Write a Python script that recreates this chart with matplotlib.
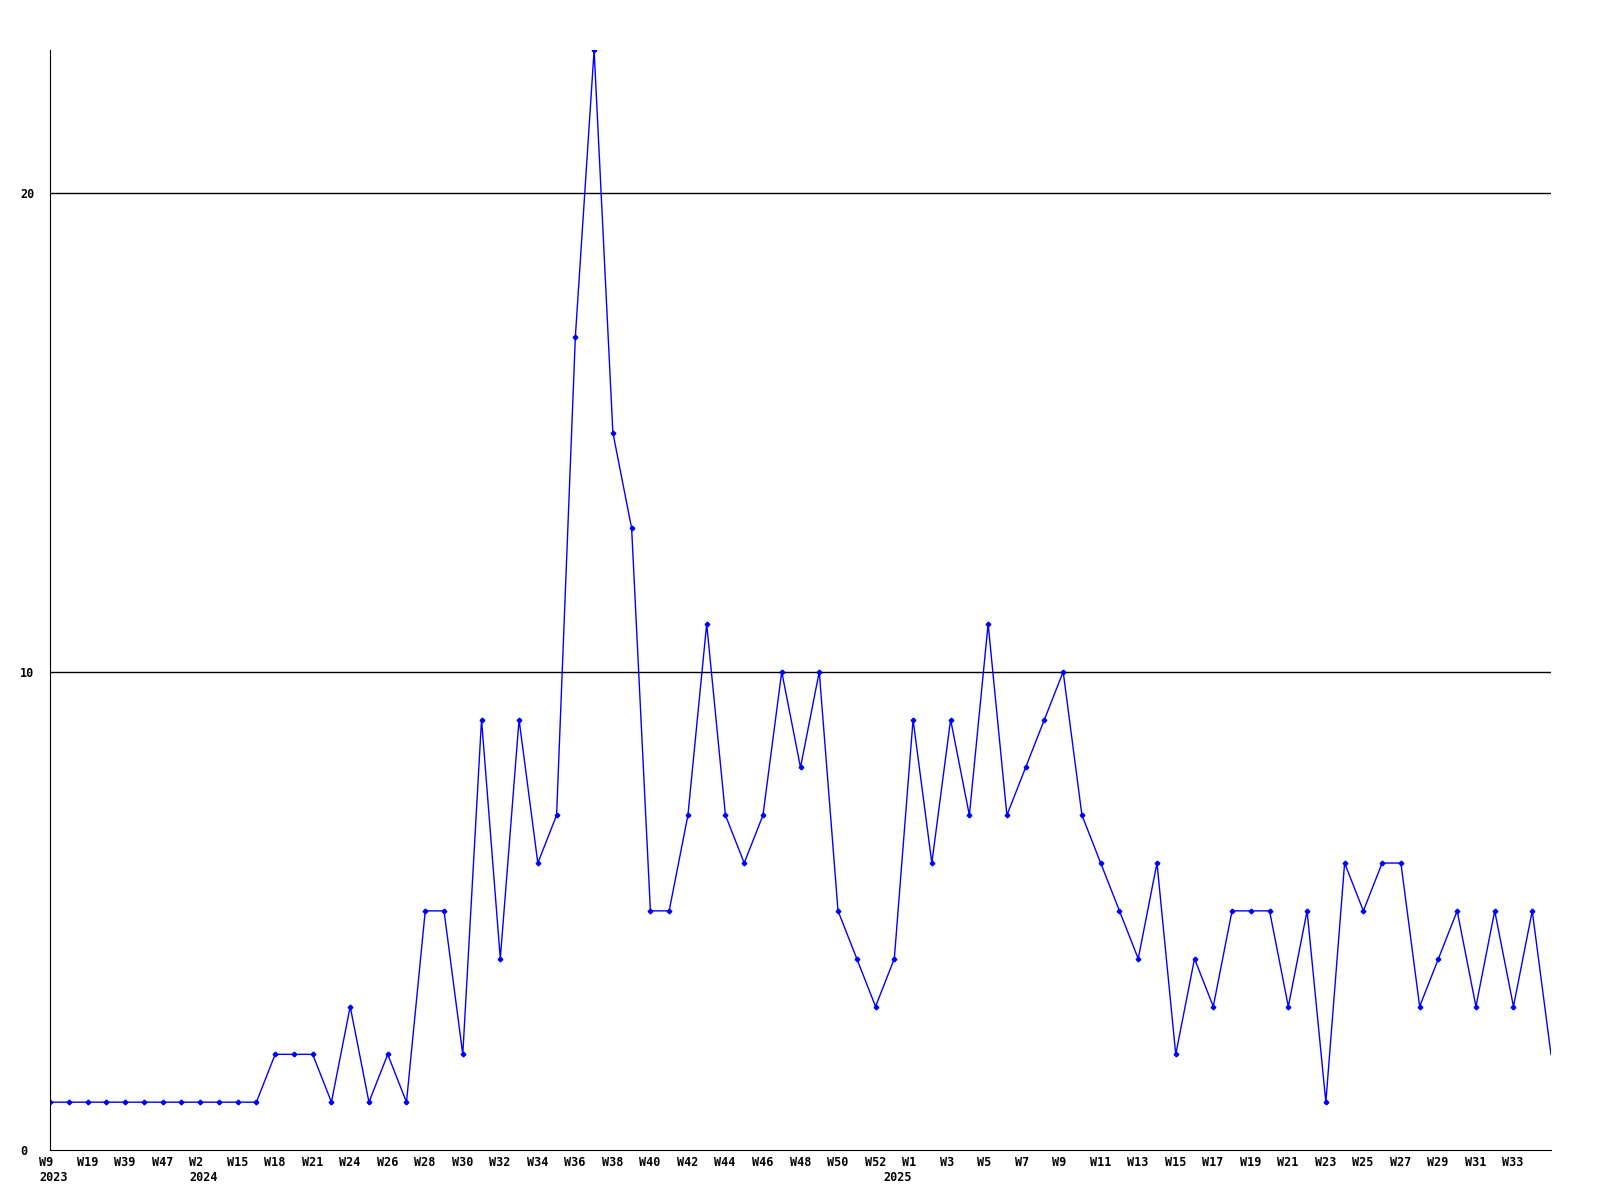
import matplotlib.pyplot as plt
import matplotlib.transforms as mtransforms

# weekly counts, one point per week
counts = [1, 1, 1, 1, 1, 1, 1, 1, 1, 1, 1, 1,
          2, 2, 2, 1, 3, 1, 2, 1, 5, 5, 2, 9, 4, 9, 6, 7,
          17, 23, 15, 13, 5, 5, 7, 11, 7, 6, 7, 10, 8, 10,
          5, 4, 3, 4, 9, 6, 9, 7, 11, 7, 8, 9, 10, 7, 6, 5, 4, 6,
          2, 4, 3, 5, 5, 5, 3, 5, 1, 6, 5, 6, 6, 3, 4, 5, 3, 5, 3, 5, 2]

# labels drawn under every second point
week_labels = ["W9", "W19", "W39", "W47", "W2", "W15", "W18", "W21",
               "W24", "W26", "W28", "W30", "W32", "W34", "W36", "W38", "W40",
               "W42", "W44", "W46", "W48", "W50", "W52", "W1", "W3", "W5",
               "W7", "W9", "W11", "W13", "W15", "W17", "W19", "W21", "W23", "W25",
               "W27", "W29", "W31", "W33"]
# year labels and the point they sit under
year_labels = ["2023", "2024", "2025"]
year_pos = [0, 8, 45]
y_ticks = [0, 10, 20]

fig = plt.figure(figsize=(16, 12), dpi=100)
ax = fig.add_axes([50/1600, 50/1200, 1501/1600, 1100/1200])

x = list(range(len(counts)))
ax.plot(x, counts, color='#0000ff', linewidth=1, marker='P', markersize=3,
        markevery=list(range(len(counts) - 1)))

for v in y_ticks[1:]:
    ax.axhline(v, color='black', linewidth=1, zorder=0)

ax.set_xlim(0, len(counts) - 1)
ax.set_ylim(0, 23)

ax.spines['top'].set_visible(False)
ax.spines['right'].set_visible(False)

font = dict(family='DejaVu Sans Mono', weight='bold', size=8.5)

ax.set_yticks(y_ticks)
ax.set_yticklabels([str(v) for v in y_ticks], **font)
ax.tick_params(axis='y', length=0, pad=21.6)
for lab in ax.get_yticklabels():
    lab.set_horizontalalignment('left')

ax.xaxis.remove_overlapping_locs = False  # keep year labels under W9 / W2
ax.set_xticks(x[0:len(week_labels) * 2:2])
ax.set_xticklabels(week_labels, **font)
ax.set_xticks(year_pos, minor=True)
ax.set_xticklabels(year_labels, minor=True, **font)
ax.tick_params(axis='x', which='major', length=0, pad=4.3)
ax.tick_params(axis='x', which='minor', length=0, pad=15.3)

shift = mtransforms.ScaledTranslation(-11/100, 0, fig.dpi_scale_trans)
for lab in ax.get_xticklabels() + ax.get_xticklabels(minor=True):
    lab.set_horizontalalignment('left')
    lab.set_transform(lab.get_transform() + shift)

fig.savefig('out.png', dpi=100)
